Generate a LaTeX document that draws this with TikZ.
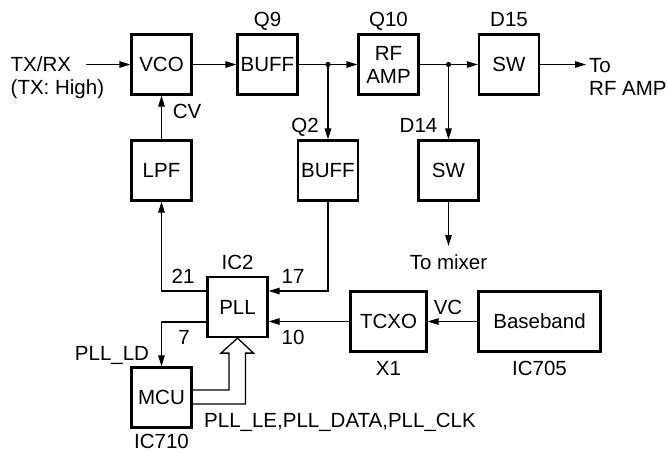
\documentclass[tikz,border=0pt]{standalone}
\usepackage{fontspec}
\setmainfont{Liberation Sans}
\usetikzlibrary{arrows.meta,calc}
\begin{document}
\begin{tikzpicture}[x=1pt,y=-1pt,
  font=\fontsize{20.5}{23}\selectfont,
  blk/.style={draw,line width=2.2pt,minimum width=60pt,minimum height=60pt,inner sep=0pt,align=center},
  conn/.style={line width=1.2pt},
  arr/.style={conn,-{Triangle[length=11pt,width=6.5pt]}},
  lbl/.style={inner sep=0pt,anchor=base},
  hollow/.style={line width=1.3pt,line join=miter}]
\useasboundingbox (0,0) rectangle (668,451);
% blocks
\node[blk] (vco) at (161.5,64.5) {VCO};
\node[blk] (buffa) at (267.5,64.5) {BUFF};
\node[blk] (rfamp) at (388.5,64.5) {RF\\AMP};
\node[blk] (swa) at (509,64.5) {SW};
\node[blk] (lpf) at (161.5,170.5) {LPF};
\node[blk] (buffb) at (328,170.5) {BUFF};
\node[blk] (swb) at (448.5,170.5) {SW};
\node[blk] (pll) at (237.5,307) {PLL};
\node[blk] (mcu) at (161.5,397.5) {MCU};
\node[blk,minimum width=76pt] (tcxo) at (388.5,321.5) {TCXO};
\node[blk,minimum width=122pt] (bb) at (539.5,321.5) {Baseband};
% labels
\node[lbl] (lq9) at (267.5,26) {Q9};
\node[lbl] (lq10) at (388.5,26) {Q10};
\node[lbl] (ld15) at (509,26) {D15};
\node[lbl,anchor=base west] (ltx) at (10.5,71.5) {TX/RX};
\node[lbl,anchor=base west] (ltxh) at (10.5,94) {(TX: High)};
\node[lbl] (lcv) at (187,118) {CV};
\node[lbl] (lq2) at (305,132) {Q2};
\node[lbl] (ld14) at (418.5,132) {D14};
\node[lbl,anchor=base west] (lto) at (589,72) {To};
\node[lbl,anchor=base west] (lrf) at (589,95) {RF AMP};
\node[lbl] (lmix) at (448.5,269) {To mixer};
\node[lbl] (lic2) at (237.5,269) {IC2};
\node[lbl] (l21) at (183,283) {21};
\node[lbl] (l17) at (293,283) {17};
\node[lbl] (l7) at (184,344) {7};
\node[lbl] (l10) at (293,344) {10};
\node[lbl] (lld) at (112,360) {PLL\_LD};
\node[lbl] (lic710) at (161.5,448) {IC710};
\node[lbl,anchor=base west] (lbus) at (204,427) {PLL\_LE,PLL\_DATA,PLL\_CLK};
\node[lbl] (lx1) at (388.5,375) {X1};
\node[lbl] (lic705) at (539.5,375) {IC705};
\node[lbl] (lvc) at (448,314) {VC};
% coordinates
\coordinate (txin) at (86,64.5);
\coordinate (ja) at (328,64.5);
\coordinate (jb) at (448.5,64.5);
\coordinate (torf) at (586,64.5);
\coordinate (tomix) at (448.5,246);
% connectors
\draw[arr] (txin) -- (vco.west);
\draw[arr] (vco.east) -- (buffa.west);
\draw[conn] (buffa.east) -- (ja);
\draw[arr] (ja) -- (rfamp.west);
\draw[arr] (ja) -- (buffb.north);
\draw[conn] (rfamp.east) -- (jb);
\draw[arr] (jb) -- (swa.west);
\draw[arr] (jb) -- (swb.north);
\fill (ja) circle (2.6pt);
\fill (jb) circle (2.6pt);
\draw[arr] (swa.east) -- (torf);
\draw[arr] (swb.south) -- (tomix);
\draw[arr] (lpf.north) -- (vco.south);
\draw[arr] ([yshift=16pt]pll.west) -| (lpf.south);
\draw[arr] (buffb.south) |- ([yshift=16pt]pll.east);
\draw[arr] (tcxo.west) -- (tcxo.west -| pll.east);
\draw[arr] (bb.west) -- (tcxo.east);
\draw[arr] ([yshift=-15pt]pll.west) -| (mcu.north);
% hollow bus arrow
\draw[hollow] ($(mcu.east)+(0,-7.5)$) -| ($(pll.south)+(-8.5,15)$)
  -- ++(-8,0) -- (pll.south) -- ++(16,15) -- ++(-8,0)
  |- ($(mcu.east)+(0,6.5)$);
\end{tikzpicture}
\end{document}
